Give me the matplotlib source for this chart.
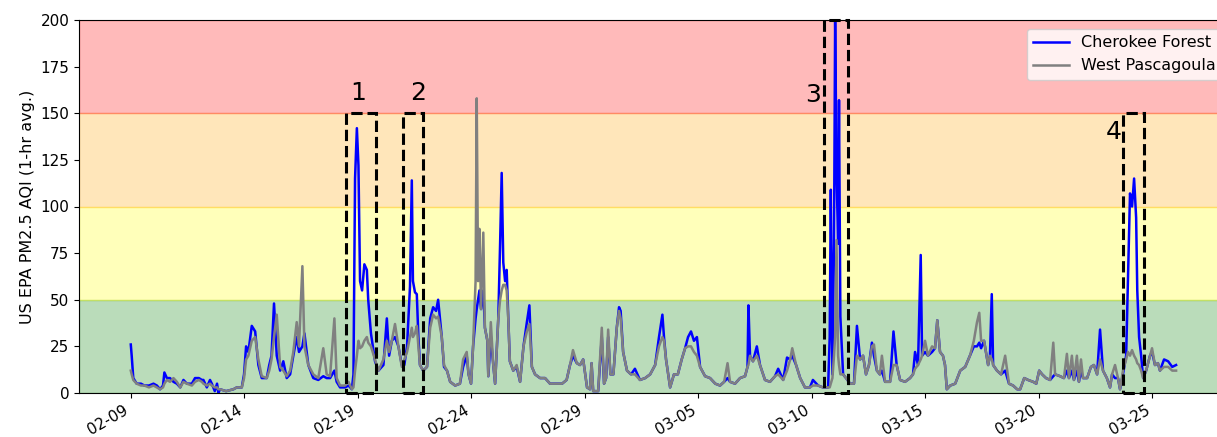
import matplotlib
matplotlib.use('Agg')
import matplotlib.pyplot as plt
import matplotlib.dates as mdates
from matplotlib.patches import Rectangle
import numpy as np
import pandas as pd

# hourly AQI, time in days after 2024-02-09 00:00
start = pd.Timestamp('2024-02-09')
days = [
    0.00, 0.04, 0.11, 0.26, 0.45, 0.60, 0.80, 1.00, 1.15, 1.29, 1.42, 1.48, 1.59, 1.73, 1.88,
    2.03, 2.18, 2.32, 2.47, 2.69, 2.83, 3.00, 3.13, 3.20, 3.35, 3.49, 3.57, 3.70, 3.80, 3.86,
    3.93, 4.20, 4.52, 4.67, 4.89, 4.99, 5.08, 5.18, 5.33, 5.48, 5.62, 5.77, 5.99, 6.10, 6.20,
    6.31, 6.43, 6.58, 6.72, 6.87, 7.02, 7.16, 7.31, 7.41, 7.56, 7.65, 7.82, 8.04, 8.26, 8.48,
    8.63, 8.78, 8.97, 9.07, 9.22, 9.44, 9.59, 9.74, 9.81, 9.88, 9.96, 10.03, 10.10, 10.19, 10.29,
    10.40, 10.46, 10.58, 10.76, 10.91, 11.13, 11.28, 11.38, 11.50, 11.64, 11.79, 11.94, 12.05, 12.17, 12.30,
    12.38, 12.43, 12.52, 12.60, 12.67, 12.74, 12.88, 13.05, 13.19, 13.32, 13.45, 13.54, 13.70, 13.80, 13.93,
    14.07, 14.29, 14.50, 14.64, 14.80, 14.88, 14.99, 15.08, 15.19, 15.24, 15.30, 15.36, 15.43, 15.53, 15.60,
    15.71, 15.75, 15.86, 15.97, 16.05, 16.19, 16.27, 16.34, 16.41, 16.49, 16.56, 16.63, 16.70, 16.85, 17.00,
    17.15, 17.30, 17.45, 17.56, 17.67, 17.81, 18.03, 18.25, 18.47, 18.74, 19.00, 19.20, 19.35, 19.48, 19.65,
    19.79, 19.93, 20.10, 20.23, 20.30, 20.37, 20.59, 20.75, 20.85, 20.94, 21.03, 21.13, 21.26, 21.41, 21.51,
    21.58, 21.69, 21.86, 22.04, 22.21, 22.43, 22.66, 22.88, 23.10, 23.27, 23.42, 23.49, 23.58, 23.76, 23.93,
    24.10, 24.27, 24.42, 24.55, 24.68, 24.81, 24.94, 25.08, 25.30, 25.52, 25.75, 25.96, 26.14, 26.29, 26.40,
    26.62, 26.84, 27.06, 27.17, 27.21, 27.28, 27.41, 27.58, 27.72, 27.94, 28.16, 28.38, 28.52, 28.74, 28.91,
    29.05, 29.14, 29.31, 29.49, 29.70, 29.92, 30.05, 30.28, 30.49, 30.72, 30.79, 30.84, 30.91, 30.98, 31.03,
    31.09, 31.16, 31.20, 31.26, 31.38, 31.51, 31.69, 31.86, 31.99, 32.13, 32.26, 32.39, 32.52, 32.65, 32.74,
    32.87, 33.00, 33.09, 33.23, 33.45, 33.60, 33.74, 33.89, 34.11, 34.33, 34.46, 34.55, 34.68, 34.80, 34.86,
    34.99, 35.12, 35.30, 35.43, 35.53, 35.65, 35.78, 35.87, 35.95, 36.10, 36.32, 36.54, 36.76, 36.97, 37.14,
    37.28, 37.38, 37.46, 37.59, 37.77, 37.85, 37.93, 37.99, 38.16, 38.34, 38.52, 38.69, 38.87, 39.05, 39.18,
    39.36, 39.53, 39.75, 39.89, 40.02, 40.15, 40.32, 40.50, 40.64, 40.72, 40.94, 41.11, 41.24, 41.33, 41.46,
    41.55, 41.68, 41.77, 41.86, 41.95, 42.13, 42.30, 42.43, 42.57, 42.70, 42.83, 43.00, 43.14, 43.23, 43.36,
    43.49, 43.58, 43.71, 43.85, 43.93, 44.02, 44.11, 44.20, 44.29, 44.34, 44.42, 44.51, 44.60, 44.73, 44.90,
    44.99, 45.12, 45.25, 45.34, 45.52, 45.70, 45.88, 46.05,
]
cherokee = [
    26, 20, 8, 5, 5, 4, 4, 5, 4, 2, 4, 11, 8, 8, 6,
    5, 3, 7, 5, 5, 8, 8, 7, 7, 3, 7, 5, 1, 5, 0,
    2, 1, 2, 3, 3, 10, 25, 22, 36, 33, 15, 8, 8, 15, 20,
    48, 20, 12, 17, 8, 10, 20, 30, 22, 25, 32, 15, 8, 7, 9,
    8, 8, 12, 6, 3, 3, 4, 2, 10, 115, 142, 122, 60, 55, 69,
    66, 50, 32, 17, 12, 15, 40, 20, 28, 30, 25, 15, 15, 25, 57,
    114, 60, 54, 53, 30, 15, 12, 14, 40, 46, 44, 50, 30, 14, 12,
    6, 4, 5, 14, 20, 10, 5, 25, 40, 45, 50, 55, 45, 55, 35,
    28, 9, 30, 15, 5, 40, 80, 118, 70, 60, 66, 40, 17, 12, 14,
    6, 25, 38, 47, 14, 10, 8, 8, 5, 5, 5, 7, 15, 20, 16,
    15, 18, 3, 2, 16, 1, 1, 30, 5, 8, 30, 10, 10, 35, 46,
    44, 22, 12, 10, 13, 7, 8, 10, 15, 30, 42, 30, 18, 3, 10,
    10, 18, 24, 30, 33, 28, 30, 14, 9, 8, 5, 4, 6, 8, 6,
    5, 8, 9, 14, 47, 20, 17, 25, 15, 7, 6, 9, 13, 7, 19,
    18, 20, 15, 8, 3, 3, 7, 4, 3, 3, 30, 109, 10, 80, 200,
    120, 80, 157, 41, 10, 8, 5, 5, 36, 18, 20, 10, 15, 27, 20,
    12, 10, 12, 6, 6, 33, 15, 7, 6, 8, 10, 22, 15, 74, 20,
    22, 20, 22, 24, 39, 22, 20, 15, 2, 4, 5, 12, 14, 20, 25,
    25, 27, 24, 28, 15, 20, 53, 15, 12, 10, 12, 5, 4, 2, 2,
    8, 7, 6, 5, 12, 10, 8, 7, 9, 10, 9, 8, 12, 8, 12,
    7, 12, 6, 12, 8, 8, 14, 15, 10, 34, 12, 8, 3, 10, 8,
    8, 2, 10, 20, 60, 107, 100, 115, 94, 55, 30, 20, 8, 12, 20,
    22, 15, 16, 12, 18, 17, 14, 15,
]
pascagoula = [
    12, 10, 7, 5, 4, 4, 3, 4, 3, 2, 3, 5, 7, 6, 8,
    6, 3, 6, 5, 4, 6, 7, 6, 5, 4, 5, 4, 3, 3, 2,
    2, 1, 2, 3, 3, 8, 18, 20, 28, 30, 18, 9, 8, 12, 18,
    30, 42, 14, 12, 9, 12, 22, 38, 25, 68, 25, 15, 10, 8, 24,
    10, 9, 40, 8, 4, 4, 6, 2, 3, 12, 20, 28, 24, 25, 28,
    30, 27, 25, 18, 12, 18, 28, 22, 28, 37, 25, 14, 18, 22, 30,
    35, 30, 32, 36, 25, 15, 12, 14, 35, 42, 40, 41, 30, 15, 12,
    6, 4, 5, 18, 22, 10, 5, 25, 60, 158, 60, 88, 45, 86, 35,
    28, 9, 38, 15, 5, 40, 50, 55, 58, 58, 55, 40, 17, 12, 15,
    6, 25, 33, 37, 14, 10, 8, 8, 5, 5, 5, 7, 15, 23, 16,
    15, 18, 3, 2, 16, 1, 1, 35, 5, 8, 34, 10, 10, 35, 44,
    40, 22, 12, 10, 10, 7, 8, 10, 15, 25, 30, 28, 18, 3, 10,
    10, 18, 24, 25, 25, 22, 20, 14, 9, 8, 5, 4, 6, 16, 6,
    5, 8, 9, 14, 15, 20, 17, 20, 15, 7, 6, 9, 10, 7, 12,
    18, 24, 15, 8, 3, 3, 4, 4, 3, 3, 3, 5, 8, 20, 30,
    82, 20, 15, 10, 10, 8, 5, 5, 20, 18, 20, 10, 15, 25, 26,
    12, 10, 20, 6, 6, 15, 15, 7, 6, 8, 10, 13, 15, 18, 20,
    28, 20, 25, 24, 39, 22, 20, 15, 2, 4, 5, 12, 14, 20, 28,
    38, 43, 28, 28, 15, 20, 18, 15, 12, 10, 20, 5, 4, 2, 2,
    8, 7, 6, 5, 12, 10, 8, 7, 27, 10, 9, 8, 21, 8, 20,
    7, 20, 6, 18, 8, 8, 14, 15, 10, 18, 12, 8, 3, 10, 15,
    8, 2, 12, 18, 22, 20, 23, 20, 18, 16, 15, 12, 8, 12, 20,
    24, 15, 16, 12, 14, 14, 12, 12,
]

# AQI category bands
band_edges = [0, 50, 100, 150, 200]
band_colors = ['green', 'yellow', 'orange', 'red']

# marked events: label, start, end, box top, label position
events = [
    ('1', '2024-02-18 11:30', '2024-02-19 19:30', 150, '2024-02-19 00:00', 161),
    ('2', '2024-02-21 00:15', '2024-02-21 20:40', 150, '2024-02-21 16:00', 161),
    ('3', '2024-03-10 13:00', '2024-03-11 14:10', 200, '2024-03-10 01:40', 160),
    ('4', '2024-03-23 17:30', '2024-03-24 15:40', 150, '2024-03-23 07:00', 140),
]

t = start + pd.to_timedelta(np.array(days), unit='D')

fig = plt.figure(figsize=(12.17, 4.37), dpi=100)
ax = fig.add_axes([79 / 1217, 44 / 437, (1241 - 79) / 1217, 373 / 437])

for lo, hi, c in zip(band_edges[:-1], band_edges[1:], band_colors):
    ax.axhspan(lo, hi, color=c, alpha=0.27, zorder=0)

ax.plot(t, cherokee, color='blue', lw=1.8, label='Cherokee Forest', zorder=2)
ax.plot(t, pascagoula, color='gray', lw=1.8, label='West Pascagoula', zorder=3)

for lab, t0, t1, top, tl, yl in events:
    x0 = mdates.date2num(pd.Timestamp(t0))
    x1 = mdates.date2num(pd.Timestamp(t1))
    ax.add_patch(Rectangle((x0, 0), x1 - x0, top, fill=False, ec='black',
                           ls='--', lw=2.2, zorder=4, clip_on=False))
    ax.text(pd.Timestamp(tl), yl, lab, fontsize=18, ha='center', va='center', zorder=5)

ax.set_ylim(0, 200)
ax.set_yticks(np.arange(0, 201, 25))
ax.set_xlim(pd.Timestamp('2024-02-06 17:15'), pd.Timestamp('2024-03-28 21:50'))
ax.set_xticks(pd.date_range('2024-02-09', periods=10, freq='5D'))
ax.xaxis.set_major_formatter(mdates.DateFormatter('%m-%d'))
plt.setp(ax.get_xticklabels(), rotation=30, ha='right')
ax.tick_params(labelsize=11)
ax.set_ylabel('US EPA PM2.5 AQI (1-hr avg.)', fontsize=11.5)

ax.legend(loc='upper left', bbox_to_anchor=(1027 / 1217, 408 / 437),
          bbox_transform=fig.transFigure, borderaxespad=0, fontsize=11.5,
          handlelength=2.2)

fig.savefig('out.png', dpi=100)
